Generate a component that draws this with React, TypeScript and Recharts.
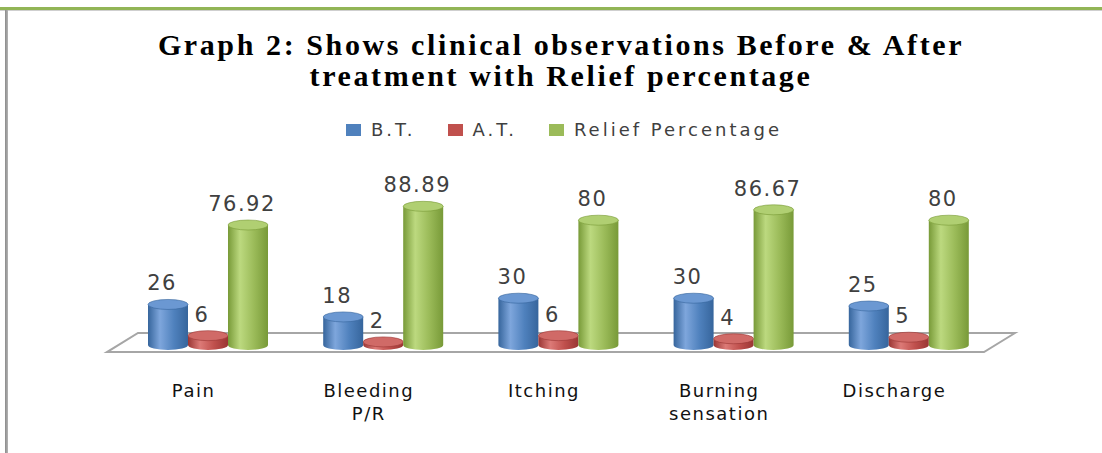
import { Bar, BarChart, LabelList, ReferenceArea, XAxis, YAxis } from 'recharts';

const categories = ['Pain', 'Bleeding\nP/R', 'Itching', 'Burning\nsensation', 'Discharge'];
const beforeTreatment = [26, 18, 30, 30, 25];
const afterTreatment = [6, 2, 6, 4, 5];
const reliefPercentage = [76.92, 88.89, 80, 86.67, 80];

const seriesInfo = [
  { key: 'bt', name: 'B.T.', color: '#4F81BD', dark: '#36659c', light: '#7ea6dc', top: '#6b98d2' },
  { key: 'at', name: 'A.T.', color: '#C0504D', dark: '#9a3634', light: '#dc7a77', top: '#d06a67' },
  { key: 'relief', name: 'Relief Percentage', color: '#9BBB59', dark: '#789a38', light: '#bcd97f', top: '#b0cf72' },
];

const data = categories.map((name, i) => ({
  name,
  bt: beforeTreatment[i],
  at: afterTreatment[i],
  relief: reliefPercentage[i],
}));

const labelFont = '"DejaVu Sans", sans-serif';

const makeCylinder = (s: (typeof seriesInfo)[number]) => (props: any) => {
  const { x, y, width, height } = props;
  if (width == null || height == null) return null;
  const rx = width / 2;
  const ry = 5;
  const cx = x + rx;
  const bottom = y + height;
  return (
    <g>
      <path
        d={`M ${x} ${y} L ${x} ${bottom} A ${rx} ${ry} 0 0 0 ${x + width} ${bottom} L ${x + width} ${y} Z`}
        fill={`url(#grad-${s.key})`}
      />
      <ellipse cx={cx} cy={y} rx={rx} ry={ry} fill={s.top} stroke={s.dark} strokeWidth={0.6} />
    </g>
  );
};

const CategoryTick = ({ x, y, payload }: any) => {
  const lines = String(payload.value).split('\n');
  const tx = x - 14;
  return (
    <text x={tx} y={y} textAnchor="middle" fill="#111" fontSize={18} fontFamily={labelFont} letterSpacing={1.5}>
      {lines.map((line, i) => (
        <tspan key={i} x={tx} dy={i === 0 ? 39 : 23}>
          {line}
        </tspan>
      ))}
    </text>
  );
};

const Floor = (props: any) => {
  const { x, y, width, height } = props;
  const skew = 31;
  const left = x - 13;
  const right = x + width + 19;
  return (
    <polygon
      points={`${left + skew},${y} ${right},${y} ${right - skew},${y + height} ${left},${y + height}`}
      fill="#ffffff"
      stroke="#a6a6a6"
      strokeWidth={2}
    />
  );
};

export default function App() {
  return (
    <div style={{ position: 'absolute', left: 0, top: 0, width: 1102, height: 453, background: '#fff', overflow: 'hidden' }}>
      <div style={{ position: 'absolute', left: 0, top: 7, width: 1102, height: 3, background: '#92b556' }} />
      <div style={{ position: 'absolute', left: 0, top: 10, width: 1102, height: 1, background: '#cfcfcf' }} />
      <div style={{ position: 'absolute', left: 5, top: 10, width: 3, height: 443, background: 'linear-gradient(90deg, #8a8a8a, #b5b5b5)' }} />

      <div
        style={{
          position: 'absolute',
          left: 20,
          top: 29,
          width: 1082,
          textAlign: 'center',
          fontFamily: '"Liberation Serif", "Times New Roman", serif',
          fontWeight: 'bold',
          fontSize: 30,
          letterSpacing: 2.6,
          lineHeight: '31px',
          color: '#000',
        }}
      >
        Graph 2: Shows clinical observations Before &amp; After
        <br />
        treatment with Relief percentage
      </div>

      <div
        style={{
          position: 'absolute',
          left: 26,
          top: 117,
          width: 1076,
          display: 'flex',
          justifyContent: 'center',
          gap: 32,
          fontFamily: labelFont,
          fontSize: 18,
          letterSpacing: 3,
          color: '#404040',
          lineHeight: '26px',
        }}
      >
        {seriesInfo.map((s) => (
          <div key={s.key} style={{ display: 'flex', alignItems: 'center', gap: 10 }}>
            <span style={{ display: 'inline-block', width: 15, height: 12, background: s.color }} />
            <span>{s.name}</span>
          </div>
        ))}
      </div>

      <div style={{ position: 'absolute', left: 0, top: 0 }}>
        <BarChart
          width={1102}
          height={453}
          data={data}
          margin={{ top: 189, right: 106, bottom: 0, left: 120 }}
          barGap={0}
          barSize={40}
        >
          <defs>
            {seriesInfo.map((s) => (
              <linearGradient key={s.key} id={`grad-${s.key}`} x1="0" y1="0" x2="1" y2="0">
                <stop offset="0%" stopColor={s.dark} />
                <stop offset="30%" stopColor={s.light} />
                <stop offset="65%" stopColor={s.color} />
                <stop offset="100%" stopColor={s.dark} />
              </linearGradient>
            ))}
          </defs>
          <XAxis
            dataKey="name"
            height={95.5}
            axisLine={false}
            tickLine={false}
            tickSize={0}
            tickMargin={0}
            interval={0}
            tick={<CategoryTick />}
          />
          <YAxis hide domain={[-8, 100]} allowDataOverflow />
          <ReferenceArea y1={-4.5} y2={7.7} shape={Floor} zIndex={-10} ifOverflow="visible" />
          {seriesInfo.map((s) => (
            <Bar key={s.key} dataKey={s.key} name={s.name} fill={s.color} shape={makeCylinder(s)} isAnimationActive={false}>
              <LabelList
                dataKey={s.key}
                position="top"
                offset={14}
                dx={-6}
                fill="#404040"
                fontSize={21}
                fontFamily={labelFont}
                letterSpacing={1.5}
              />
            </Bar>
          ))}
        </BarChart>
      </div>
    </div>
  );
}
